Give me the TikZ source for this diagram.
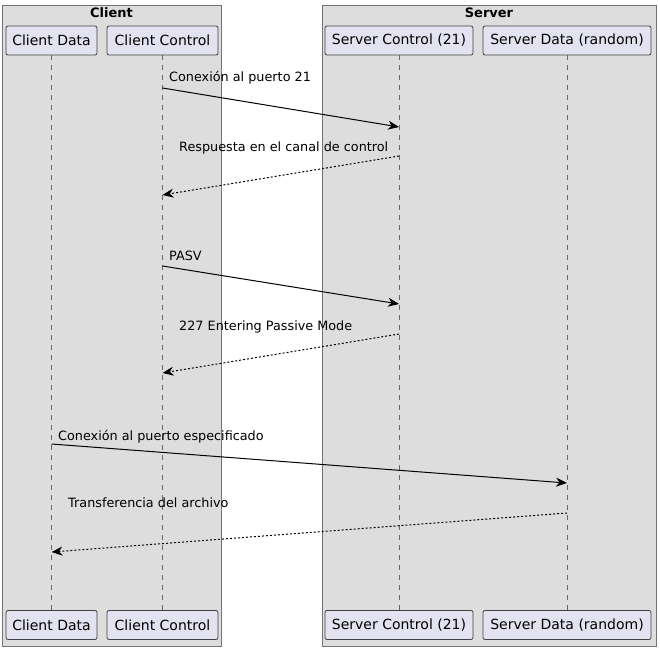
\documentclass[tikz,border=0pt]{standalone}
\usepackage{fontspec}
\setmainfont{DejaVu Sans}
\usetikzlibrary{arrows.meta}
\definecolor{grpfill}{HTML}{DDDDDD}
\definecolor{partfill}{HTML}{E2E2F0}
\tikzset{
	grp/.style = {draw=black!55, fill=grpfill, line width=1pt},% caja de grupo
	grptitle/.style = {inner sep=0pt, font=\fontsize{13}{15}\selectfont\bfseries},
	part/.style = {draw=black!75, fill=partfill, rounded corners=2pt, line width=0.8pt,
		minimum height=29pt, inner xsep=2pt, font=\fontsize{14}{16}\selectfont},% participante
	life/.style = {black!60, line width=0.8pt, dash pattern=on 5pt off 5pt},% linea de vida
	msg/.style = {-{Stealth[length=11pt,width=9pt,inset=3.5pt]}, black, line width=1pt},
	rep/.style = {msg, dash pattern=on 2pt off 2pt},% respuesta
	lbl/.style = {anchor=base west, inner sep=0pt, font=\fontsize{12.8}{15}\selectfont}
}
\begin{document}
\begin{tikzpicture}[x=1pt,y=-1pt]
	\useasboundingbox (0,0) rectangle (660,650);
	\draw[grp] (2,6) rectangle (221,646);
	\draw[grp] (322,6) rectangle (656,646);
	\node[grptitle] (client) at (111.5,13) {Client};
	\node[grptitle] (server) at (489,13) {Server};
	\node[part, minimum width=91pt] (cd) at (51.5,40.5) {Client Data};
	\node[part, minimum width=111pt] (cc) at (162.5,40.5) {Client Control};
	\node[part, minimum width=148pt] (sc) at (399,40.5) {Server Control (21)};
	\node[part, minimum width=168pt] (sd) at (567,40.5) {Server Data (random)};
	\node[part, minimum width=91pt] (cdb) at (51.5,625) {Client Data};
	\node[part, minimum width=111pt] (ccb) at (162.5,625) {Client Control};
	\node[part, minimum width=148pt] (scb) at (399,625) {Server Control (21)};
	\node[part, minimum width=168pt] (sdb) at (567,625) {Server Data (random)};
	\draw[life] (cd) -- (cdb);
	\draw[life] (cc) -- (ccb);
	\draw[life] (sc) -- (scb);
	\draw[life] (sd) -- (sdb);
	% mensajes
	\draw[msg] (cc |- 0,88) -- (sc |- 0,127);
	\node[lbl] (m1) at (169,82) {Conexión al puerto 21};
	\draw[rep] (sc |- 0,156) -- (cc |- 0,195);
	\node[lbl] (m2) at (179,151) {Respuesta en el canal de control};
	\draw[msg] (cc |- 0,266) -- (sc |- 0,304);
	\node[lbl] (m3) at (169,260) {PASV};
	\draw[rep] (sc |- 0,334) -- (cc |- 0,373);
	\node[lbl] (m4) at (179,330) {227 Entering Passive Mode};
	\draw[msg] (cd |- 0,444) -- (sd |- 0,483);
	\node[lbl] (m5) at (58,440) {Conexión al puerto especificado};
	\draw[rep] (sd |- 0,513) -- (cd |- 0,552);
	\node[lbl] (m6) at (68,507) {Transferencia del archivo};
\end{tikzpicture}
\end{document}
